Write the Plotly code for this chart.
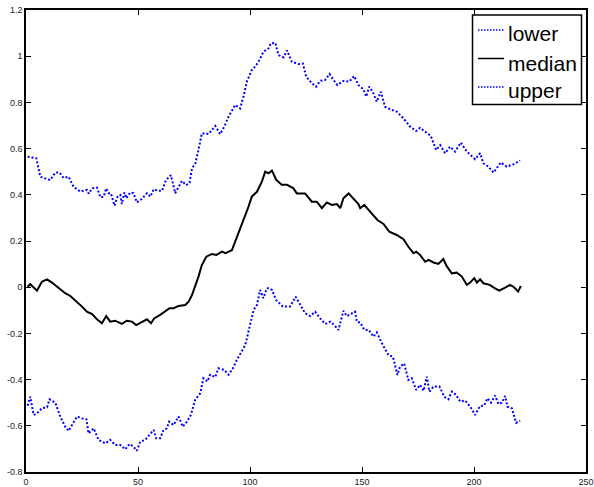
import plotly.graph_objects as go

# Upper band
upper_x = [0.7, 4.6, 6.4, 10.8, 13.1, 15, 16.8, 19, 21.2, 24.2, 27.2, 28, 29.5, 31.7, 33.2,
           34.7, 35.8, 36.9, 37.9, 39.5, 40.9, 42.1, 42.8, 43.9, 44.8, 46.5, 48, 49.5, 51.7,
           54, 55.5, 57, 59.2, 60.7, 62.5, 64.7, 66.6, 68.1, 69.6, 71.5, 73, 74.1, 75.6, 77,
           78.5, 81.5, 84.5, 86.7, 88.5, 90.4, 93.4, 95.6, 97.1, 98.6, 100.8, 102.3, 103.8,
           106, 108.3, 109.3, 111.3, 112.7, 115, 116.5, 118.7, 121.6, 123.6, 125.1, 127.6,
           129.5, 131.3, 133.5, 135.5, 137.3, 139, 141.7, 144.4, 146.5, 148.4, 150.6, 151.9,
           153.2, 154.8, 156.6, 158.4, 160.3, 162.6, 165.5, 168.5, 171.5, 174.2, 175.9, 178.2,
           180.7, 183.1, 184.9, 187.1, 189.3, 191.6, 194.1, 196.8, 200.5, 202.7, 204.2, 206.4,
           208.7, 212, 214.6, 217.9, 220.6]
upper_y = [0.565, 0.558, 0.478, 0.464, 0.496, 0.496, 0.473, 0.478, 0.435, 0.414, 0.421, 0.405,
           0.428, 0.431, 0.389, 0.392, 0.428, 0.407, 0.407, 0.353, 0.392, 0.399, 0.360, 0.410,
           0.385, 0.410, 0.407, 0.367, 0.382, 0.407, 0.392, 0.424, 0.417, 0.417, 0.464, 0.485,
           0.407, 0.435, 0.460, 0.442, 0.452, 0.514, 0.536, 0.594, 0.666, 0.663, 0.698, 0.663,
           0.695, 0.738, 0.789, 0.774, 0.825, 0.890, 0.940, 0.955, 0.976, 1.019, 1.034, 1.056,
           1.058, 1.005, 0.995, 1.025, 0.976, 0.966, 0.968, 0.911, 0.883, 0.868, 0.893, 0.897,
           0.923, 0.897, 0.875, 0.893, 0.890, 0.914, 0.875, 0.857, 0.825, 0.868, 0.846, 0.803,
           0.846, 0.781, 0.770, 0.760, 0.731, 0.695, 0.676, 0.690, 0.673, 0.655, 0.594, 0.615,
           0.580, 0.608, 0.587, 0.626, 0.587, 0.554, 0.580, 0.536, 0.522, 0.496, 0.540, 0.522,
           0.533, 0.548]

# Median
median_x = [0.7, 1.9, 4.9, 7.1, 9.4, 11.6, 15.3, 17.5, 19.8, 22.8, 25, 27.2, 29.5, 31.7, 33.9,
            35.8, 37.6, 39.8, 42.8, 45, 47.3, 49.2, 51.7, 54, 55.8, 57.2, 59.9, 62.2, 64.1,
            65.9, 68.1, 71.1, 72.6, 74.1, 75.5, 77, 78.5, 80.5, 83, 85, 87.5, 89, 91.9, 93.4,
            94.9, 97.9, 99.3, 100.8, 103.1, 105.3, 106.8, 108.3, 109.8, 111.7, 114.2, 116.5,
            119.4, 120.9, 124.6, 127.6, 129.8, 132.1, 134.3, 136.5, 138.8, 140.3, 141.7, 144,
            146.2, 148.4, 149.2, 151, 153.6, 156.9, 159.6, 162.2, 165.5, 168.5, 170.7, 173,
            174.2, 175.9, 178.2, 179.7, 181.9, 184.1, 186.3, 187.9, 190.1, 192.3, 194.6, 196.8,
            198.3, 200.1, 201.3, 202.7, 204.2, 207, 209.4, 211.3, 213.9, 216.1, 217.9, 219.7,
            220.9]
median_y = [0.002, 0.013, -0.015, 0.024, 0.034, 0.020, -0.009, -0.026, -0.038, -0.063, -0.084,
            -0.106, -0.116, -0.139, -0.156, -0.125, -0.149, -0.145, -0.159, -0.145, -0.149,
            -0.164, -0.149, -0.139, -0.156, -0.135, -0.120, -0.106, -0.091, -0.091, -0.081,
            -0.077, -0.063, -0.034, 0.002, 0.046, 0.096, 0.132, 0.144, 0.140, 0.154, 0.147,
            0.160, 0.197, 0.233, 0.305, 0.348, 0.392, 0.413, 0.457, 0.500, 0.493, 0.505, 0.465,
            0.443, 0.443, 0.428, 0.406, 0.406, 0.370, 0.370, 0.342, 0.367, 0.356, 0.360, 0.342,
            0.385, 0.406, 0.381, 0.360, 0.342, 0.356, 0.327, 0.291, 0.274, 0.240, 0.226, 0.208,
            0.175, 0.147, 0.154, 0.140, 0.110, 0.118, 0.107, 0.101, 0.122, 0.090, 0.060, 0.063,
            0.046, 0.010, 0.020, 0.039, 0.020, 0.034, 0.017, 0.010, -0.005, -0.015, -0.002,
            0.010, 0.000, -0.019, 0.005]

# Lower band
lower_x = [0.7, 1.9, 3.4, 4.9, 7.1, 9.4, 10.5, 13.1, 15.3, 17.5, 19, 20.5, 22.8, 25, 27, 27.9,
           30.2, 32.4, 35.4, 37.6, 39.8, 42.1, 44.3, 46.2, 48, 49.5, 51, 53.2, 55.5, 57, 58.1,
           59.9, 61.4, 62.9, 63.9, 65.9, 68.1, 70, 71.8, 73.6, 75.5, 77.8, 79.2, 81, 82.2,
           84.5, 85.9, 88.5, 90.4, 92.4, 94.1, 95.9, 97.9, 99.3, 101.6, 103.1, 104.5, 106,
           107.5, 108.7, 109.8, 111.7, 114.7, 117.9, 120.4, 122.1, 124.6, 126.9, 129.1, 131.3,
           133.6, 135.8, 137.6, 139.5, 141.7, 143.2, 145.1, 146.9, 147.7, 149.2, 151, 153,
           155.1, 156.6, 158.9, 161.8, 163.8, 165.8, 167, 168.8, 170.7, 172.2, 174.2, 175.9,
           177.5, 178.9, 180.1, 181.9, 184.6, 186.7, 188.6, 190.1, 192, 193.8, 196, 198.3,
           200.5, 202.7, 204.5, 206, 207.6, 209.4, 210.9, 212.4, 213.9, 214.9, 216.9, 218.8,
           220.6]
lower_y = [-0.513, -0.474, -0.553, -0.546, -0.524, -0.520, -0.485, -0.500, -0.560, -0.604,
           -0.622, -0.597, -0.560, -0.568, -0.572, -0.633, -0.611, -0.661, -0.676, -0.661,
           -0.683, -0.683, -0.702, -0.679, -0.690, -0.708, -0.669, -0.661, -0.636, -0.618,
           -0.654, -0.654, -0.618, -0.611, -0.582, -0.597, -0.560, -0.604, -0.582, -0.553,
           -0.488, -0.459, -0.394, -0.408, -0.379, -0.389, -0.351, -0.358, -0.379, -0.351,
           -0.315, -0.286, -0.250, -0.193, -0.099, -0.077, -0.012, -0.048, -0.005, -0.005,
           -0.012, -0.056, -0.084, -0.084, -0.041, -0.070, -0.113, -0.125, -0.106, -0.135,
           -0.159, -0.149, -0.164, -0.185, -0.102, -0.125, -0.116, -0.106, -0.149, -0.153,
           -0.185, -0.185, -0.214, -0.196, -0.243, -0.294, -0.301, -0.380, -0.344, -0.330,
           -0.402, -0.394, -0.445, -0.423, -0.448, -0.387, -0.452, -0.430, -0.430, -0.474,
           -0.485, -0.452, -0.466, -0.495, -0.491, -0.517, -0.553, -0.514, -0.513, -0.481,
           -0.500, -0.469, -0.506, -0.500, -0.471, -0.517, -0.524, -0.587, -0.578]

x_ticks = [0, 50, 100, 150, 200, 250]
y_ticks = [-0.8, -0.6, -0.4, -0.2, 0, 0.2, 0.4, 0.6, 0.8, 1, 1.2]

series_names = ["lower", "median", "upper"]

FONT = "Liberation Sans, Arial, Helvetica, sans-serif"
BLUE = "#0000ff"
DOT = "2px,2px"

W, H = 594, 487
M_L, M_R, M_T, M_B = 26, 8, 10, 15
PW, PH = W - M_L - M_R, H - M_T - M_B


def px_x(p):
    """Pixel column -> paper x fraction."""
    return (p - M_L) / PW


def px_y(p):
    """Pixel row (from top) -> paper y fraction."""
    return 1 - (p - M_T) / PH


fig = go.Figure()
fig.add_trace(go.Scatter(x=lower_x, y=lower_y, mode="lines", name=series_names[0],
                         line=dict(color=BLUE, width=2, dash=DOT)))
fig.add_trace(go.Scatter(x=median_x, y=median_y, mode="lines", name=series_names[1],
                         line=dict(color="black", width=2)))
fig.add_trace(go.Scatter(x=upper_x, y=upper_y, mode="lines", name=series_names[2],
                         line=dict(color=BLUE, width=2, dash=DOT)))

axis_common = dict(
    showgrid=False, zeroline=False, showline=True, linecolor="black", linewidth=1.5,
    mirror="ticks", ticks="inside", ticklen=5, tickwidth=1, tickcolor="black",
    automargin=False,
    tickfont=dict(family=FONT, size=9, color="#222222"),
)

# Boxed legend in the upper-right corner of the axes
box_l, box_r, box_t, box_b = 472.5, 581.5, 15, 104.5
sample_l, sample_r, text_l = 478, 504, 506
rows = [(30, 33), (58.5, 63), (87, 90)]  # (sample line row, text centre row)
legend_styles = [
    dict(color=BLUE, width=1.5, dash="1.5px,1.5px"),
    dict(color="black", width=1.5),
    dict(color=BLUE, width=1.5, dash="1.5px,1.5px"),
]

shapes = [dict(type="rect", xref="paper", yref="paper",
               x0=px_x(box_l), x1=px_x(box_r), y0=px_y(box_b), y1=px_y(box_t),
               line=dict(color="black", width=1.5), fillcolor="white", layer="above")]
annotations = []
for name, (ly, ty), style in zip(series_names, rows, legend_styles):
    shapes.append(dict(type="line", xref="paper", yref="paper",
                       x0=px_x(sample_l), x1=px_x(sample_r), y0=px_y(ly), y1=px_y(ly),
                       line=style, layer="above"))
    annotations.append(dict(text=name, xref="paper", yref="paper",
                            x=px_x(text_l), y=px_y(ty), xanchor="left", yanchor="middle",
                            showarrow=False,
                            font=dict(family=FONT, size=21, color="black")))

fig.update_layout(
    width=W, height=H,
    margin=dict(l=M_L, r=M_R, t=M_T, b=M_B),
    paper_bgcolor="white", plot_bgcolor="white",
    xaxis=dict(range=[0, 250], tickvals=x_ticks,
               ticktext=[f"{v:g}" for v in x_ticks], **axis_common),
    yaxis=dict(range=[-0.8, 1.2], tickvals=y_ticks,
               ticktext=[f"{v:g}" for v in y_ticks], **axis_common),
    showlegend=False,
    shapes=shapes,
    annotations=annotations,
)

fig.write_html("out.html")
